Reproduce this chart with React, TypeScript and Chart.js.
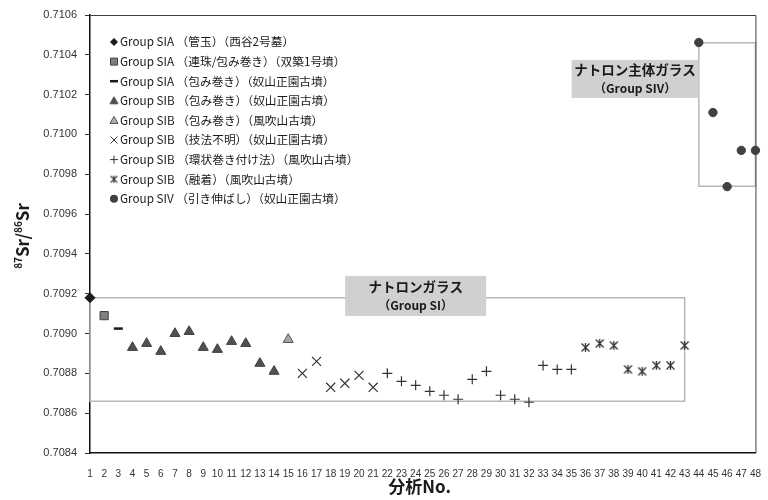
import React, { useEffect, useRef } from "react";
import { Chart, registerables } from "chart.js";

Chart.register(...registerables);

// ---- Data ----
const yMin = 0.7084;
const yMax = 0.7106;
const yStep = 0.0002;
const xMin = 1;
const xMax = 48;

const siaTubeX = [1];
const siaTubeY = [0.70918];
const siaBeadX = [2];
const siaBeadY = [0.70909];
const siaWrapX = [3];
const siaWrapY = [0.709025];
const sibWrapNX = [4, 5, 6, 7, 8, 9, 10, 11, 12, 13, 14];
const sibWrapNY = [0.70893, 0.70895, 0.70891, 0.709, 0.70901, 0.70893, 0.70892, 0.70896, 0.70895, 0.70885, 0.70881];
const sibWrapFX = [15];
const sibWrapFY = [0.70897];
const sibUnknownX = [16, 17, 18, 19, 20, 21];
const sibUnknownY = [0.7088, 0.70886, 0.70873, 0.70875, 0.70879, 0.70873];
const sibRingX = [22, 23, 24, 25, 26, 27, 28, 29, 30, 31, 32, 33, 34, 35];
const sibRingY = [0.7088, 0.70876, 0.70874, 0.70871, 0.70869, 0.70867, 0.70877, 0.70881, 0.70869, 0.70867, 0.708655, 0.70884, 0.70882, 0.70882];
const sibFusedX = [36, 37, 38, 39, 40, 41, 42, 43];
const sibFusedY = [0.70893, 0.70895, 0.70894, 0.70882, 0.70881, 0.70884, 0.70884, 0.70894];
const sivX = [44, 45, 46, 47, 48];
const sivY = [0.710462, 0.71011, 0.709738, 0.70992, 0.70992];

const siBoxX = [1, 43];
const siBoxY = [0.70866, 0.70918];
const sivBoxX = [44, 48];
const sivBoxY = [0.70974, 0.71046];

const legendLabels = [
  "Group SIA （管玉）（西谷2号墓）",
  "Group SIA （連珠/包み巻き）（双築1号墳）",
  "Group SIA （包み巻き）（奴山正園古墳）",
  "Group SIB （包み巻き）（奴山正園古墳）",
  "Group SIB （包み巻き）（風吹山古墳）",
  "Group SIB （技法不明）（奴山正園古墳）",
  "Group SIB （環状巻き付け法）（風吹山古墳）",
  "Group SIB （融着）（風吹山古墳）",
  "Group SIV （引き伸ばし）（奴山正園古墳）",
];

const siLabelLines = ["ナトロンガラス", "（Group SI）"];
const siLabelPos = [24.0, 0.709189];
const sivLabelLines = ["ナトロン主体ガラス", "（Group SIV）"];
const sivLabelPos = [39.5, 0.710279];

const xTitle = "分析No.";

const FONT = "'Noto Sans CJK JP', 'Noto Sans', sans-serif";

function pts(xs: number[], ys: number[]) {
  return xs.map((x, i) => ({ x, y: ys[i] }));
}
function boxPts(xs: number[], ys: number[]) {
  return [
    { x: xs[0], y: ys[1] },
    { x: xs[1], y: ys[1] },
    { x: xs[1], y: ys[0] },
    { x: xs[0], y: ys[0] },
    { x: xs[0], y: ys[1] },
  ];
}

function makeStar(size: number, color: string, lw: number) {
  const c = document.createElement("canvas");
  c.width = size;
  c.height = size;
  const g = c.getContext("2d")!;
  g.strokeStyle = color;
  g.lineWidth = lw;
  const m = size / 2;
  const a = size * 0.36;
  g.beginPath();
  g.moveTo(m - a, m - a);
  g.lineTo(m + a, m + a);
  g.moveTo(m + a, m - a);
  g.lineTo(m - a, m + a);
  g.moveTo(m, m - a - 0.5);
  g.lineTo(m, m + a + 0.5);
  g.stroke();
  return c;
}

function drawMarker(ctx: CanvasRenderingContext2D, kind: string, x: number, y: number, star: HTMLCanvasElement) {
  ctx.save();
  ctx.beginPath();
  switch (kind) {
    case "diamond":
      ctx.fillStyle = "#1a1a1a";
      ctx.moveTo(x - 4, y);
      ctx.lineTo(x, y - 4);
      ctx.lineTo(x + 4, y);
      ctx.lineTo(x, y + 4);
      ctx.closePath();
      ctx.fill();
      break;
    case "square":
      ctx.fillStyle = "#808080";
      ctx.strokeStyle = "#404040";
      ctx.lineWidth = 1;
      ctx.rect(x - 3.5, y - 3.5, 7, 7);
      ctx.fill();
      ctx.stroke();
      break;
    case "dash":
      ctx.strokeStyle = "#1a1a1a";
      ctx.lineWidth = 2.5;
      ctx.moveTo(x - 4, y);
      ctx.lineTo(x + 4, y);
      ctx.stroke();
      break;
    case "triDark":
    case "triLight":
      ctx.fillStyle = kind === "triDark" ? "#505050" : "#b0b0b0";
      ctx.strokeStyle = "#505050";
      ctx.lineWidth = 1;
      ctx.moveTo(x, y - 4);
      ctx.lineTo(x + 4, y + 3);
      ctx.lineTo(x - 4, y + 3);
      ctx.closePath();
      ctx.fill();
      ctx.stroke();
      break;
    case "x":
      ctx.strokeStyle = "#333";
      ctx.lineWidth = 1;
      ctx.moveTo(x - 3.5, y - 3.5);
      ctx.lineTo(x + 3.5, y + 3.5);
      ctx.moveTo(x + 3.5, y - 3.5);
      ctx.lineTo(x - 3.5, y + 3.5);
      ctx.stroke();
      break;
    case "plus":
      ctx.strokeStyle = "#333";
      ctx.lineWidth = 1;
      ctx.moveTo(x - 4, y);
      ctx.lineTo(x + 4, y);
      ctx.moveTo(x, y - 4);
      ctx.lineTo(x, y + 4);
      ctx.stroke();
      break;
    case "star":
      ctx.drawImage(star, x - star.width / 2, y - star.height / 2);
      break;
    case "circle":
      ctx.fillStyle = "#404040";
      ctx.arc(x, y, 4, 0, Math.PI * 2);
      ctx.fill();
      break;
  }
  ctx.restore();
}

const legendKinds = ["diamond", "square", "dash", "triDark", "triLight", "x", "plus", "star", "circle"];

export default function App() {
  const ref = useRef<HTMLCanvasElement | null>(null);

  useEffect(() => {
    if (!ref.current) return;
    const starBig = makeStar(11, "#333", 1.3);
    const starSmall = makeStar(9, "#333", 1.1);

    const labelPlugin = {
      id: "labels",
      afterDatasetsDraw(chart: any) {
        const ctx = chart.ctx as CanvasRenderingContext2D;
        const xs = chart.scales.x;
        const ys = chart.scales.y;
        const drawLabel = (pos: number[], lines: string[], w: number, h: number) => {
          const cx = xs.getPixelForValue(pos[0]);
          const cy = ys.getPixelForValue(pos[1]);
          ctx.save();
          ctx.fillStyle = "#d0d0d0";
          ctx.fillRect(cx - w / 2, cy - h / 2, w, h);
          ctx.fillStyle = "#1a1a1a";
          ctx.textAlign = "center";
          ctx.textBaseline = "middle";
          ctx.font = `bold 13.5px ${FONT}`;
          ctx.fillText(lines[0], cx, cy - 9);
          ctx.font = `bold 12px ${FONT}`;
          ctx.fillText(lines[1], cx, cy + 10);
          ctx.restore();
        };
        drawLabel(siLabelPos, siLabelLines, 141, 40);
        drawLabel(sivLabelPos, sivLabelLines, 127, 38);
      },
      afterDraw(chart: any) {
        const ctx = chart.ctx as CanvasRenderingContext2D;
        const a = chart.chartArea;
        ctx.save();
        // top and right frame
        ctx.strokeStyle = "#404040";
        ctx.lineWidth = 1;
        ctx.beginPath();
        ctx.moveTo(a.left, a.top + 0.5);
        ctx.lineTo(a.right + 0.5, a.top + 0.5);
        ctx.lineTo(a.right + 0.5, a.bottom);
        ctx.stroke();

        // legend
        ctx.font = `11.7px ${FONT}`;
        ctx.fillStyle = "#1a1a1a";
        ctx.textBaseline = "middle";
        ctx.textAlign = "left";
        legendLabels.forEach((t, i) => {
          const y = a.top + 27 + i * 19.6;
          drawMarker(ctx, legendKinds[i], a.left + 24, y, starSmall);
          ctx.fillStyle = "#1a1a1a";
          ctx.fillText(t, a.left + 30, y);
        });

        // x title
        ctx.font = `bold 17px ${FONT}`;
        ctx.textAlign = "center";
        ctx.textBaseline = "middle";
        ctx.fillText(xTitle, (a.left + a.right) / 2 - 3, 487);

        // y title with superscripts
        const parts = [
          { t: "87", sup: true },
          { t: "Sr/", sup: false },
          { t: "86", sup: true },
          { t: "Sr", sup: false },
        ];
        const bigF = `bold 17px ${FONT}`;
        const smallF = `bold 10px ${FONT}`;
        let total = 0;
        parts.forEach((p) => {
          ctx.font = p.sup ? smallF : bigF;
          total += ctx.measureText(p.t).width;
        });
        ctx.translate(23, (a.top + a.bottom) / 2 + 2);
        ctx.rotate(-Math.PI / 2);
        ctx.textAlign = "left";
        ctx.textBaseline = "alphabetic";
        let xx = -total / 2;
        parts.forEach((p) => {
          ctx.font = p.sup ? smallF : bigF;
          ctx.fillText(p.t, xx, p.sup ? -1 : 6);
          xx += ctx.measureText(p.t).width;
        });
        ctx.restore();
      },
    };

    const boxStyle = {
      type: "line" as const,
      showLine: true,
      pointRadius: 0,
      borderColor: "#b8b8b8",
      borderWidth: 1.5,
      fill: false,
      tension: 0,
      order: 10,
      clip: false as any,
    };

    const chart = new Chart(ref.current, {
      type: "scatter",
      data: {
        datasets: [
          { ...boxStyle, data: boxPts(siBoxX, siBoxY) } as any,
          { ...boxStyle, data: boxPts(sivBoxX, sivBoxY) } as any,
          {
            data: pts(siaTubeX, siaTubeY),
            pointStyle: "rectRot",
            pointRadius: 5,
            backgroundColor: "#1a1a1a",
            borderColor: "#1a1a1a",
            borderWidth: 1,
            clip: false,
          },
          {
            data: pts(siaBeadX, siaBeadY),
            pointStyle: "rect",
            pointRadius: 5.8,
            backgroundColor: "#808080",
            borderColor: "#404040",
            borderWidth: 1,
            clip: false,
          },
          {
            data: pts(siaWrapX, siaWrapY),
            pointStyle: "line",
            pointRadius: 4.5,
            borderColor: "#1a1a1a",
            borderWidth: 2.5,
            clip: false,
          },
          {
            data: pts(sibWrapNX, sibWrapNY),
            pointStyle: "triangle",
            pointRadius: 5.8,
            backgroundColor: "#505050",
            borderColor: "#404040",
            borderWidth: 1,
            clip: false,
          },
          {
            data: pts(sibWrapFX, sibWrapFY),
            pointStyle: "triangle",
            pointRadius: 5.8,
            backgroundColor: "#a8a8a8",
            borderColor: "#505050",
            borderWidth: 1,
            clip: false,
          },
          {
            data: pts(sibUnknownX, sibUnknownY),
            pointStyle: "crossRot",
            pointRadius: 6.4,
            borderColor: "#333",
            borderWidth: 1.2,
            clip: false,
          },
          {
            data: pts(sibRingX, sibRingY),
            pointStyle: "cross",
            pointRadius: 5,
            borderColor: "#333",
            borderWidth: 1.2,
            clip: false,
          },
          {
            data: pts(sibFusedX, sibFusedY),
            pointStyle: starBig as any,
            pointRadius: 5,
            borderColor: "#333",
            clip: false,
          },
          {
            data: pts(sivX, sivY),
            pointStyle: "circle",
            pointRadius: 4.2,
            backgroundColor: "#404040",
            borderColor: "#404040",
            borderWidth: 1,
            clip: false,
          },
        ],
      },
      options: {
        responsive: false,
        animation: false,
        events: [],
        layout: { padding: { top: 15, right: 6, left: 0, bottom: 0 } },
        plugins: {
          legend: { display: false },
          tooltip: { enabled: false },
          title: { display: false },
        },
        scales: {
          x: {
            type: "linear",
            min: xMin,
            max: xMax,
            afterFit: (s: any) => {
              s.height = 47;
            },
            grid: { display: false },
            border: { display: true, color: "#111", width: 1.5 },
            ticks: {
              stepSize: 1,
              autoSkip: false,
              maxRotation: 0,
              padding: 7,
              color: "#333",
              font: { family: "'Liberation Sans', sans-serif", size: 10 },
              callback: (v: any) => String(Math.round(Number(v))),
            },
          },
          y: {
            type: "linear",
            min: yMin,
            max: yMax,
            afterFit: (s: any) => {
              s.width = 90;
            },
            grid: {
              display: true,
              drawOnChartArea: false,
              drawTicks: true,
              tickLength: 5,
              color: "#333",
            },
            border: { display: true, color: "#111", width: 1.5 },
            ticks: {
              stepSize: yStep,
              padding: 8,
              color: "#333",
              font: { family: "'Liberation Sans', sans-serif", size: 11 },
              callback: (v: any) => Number(v).toFixed(4),
            },
          },
        },
      },
      plugins: [labelPlugin],
    });
    return () => chart.destroy();
  }, []);

  return (
    <div style={{ position: "fixed", left: 0, top: 0, width: 768, height: 500, background: "#fff" }}>
      <canvas ref={ref} width={768} height={500} style={{ display: "block" }} />
    </div>
  );
}
